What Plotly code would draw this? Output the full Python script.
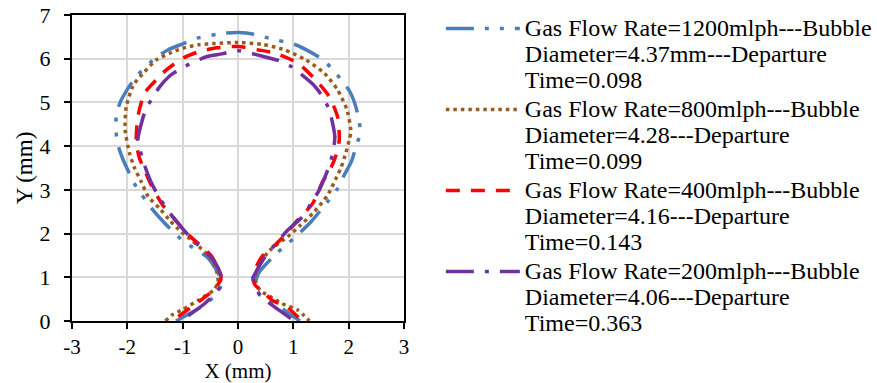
import plotly.graph_objects as go

# Bubble contour coordinates (mm) for each gas flow rate
x_1200 = [-1.12, -0.89, -0.60, -0.40, -0.30, -0.36, -0.55, -0.98, -1.17, -1.37, -1.55, -1.84, -1.96, -2.08,
          -2.17, -2.21, -2.20, -2.13, -2.00, -1.84, -1.48, -1.27, -1.00, -0.74, -0.26, 0.01, 0.29, 0.55,
          1.04, 1.27, 1.51, 1.71, 2.02, 2.12, 2.19, 2.21, 2.16, 2.05, 1.92, 1.79, 1.62, 1.32, 1.11, 0.90,
          0.70, 0.37, 0.31, 0.40, 0.56, 0.79, 1.05, 1.12]
y_1200 = [0.00, 0.16, 0.38, 0.60, 0.85, 1.10, 1.45, 1.82, 2.04, 2.30, 2.56, 3.07, 3.37, 3.70,
          4.03, 4.40, 4.67, 5.00, 5.30, 5.59, 6.03, 6.20, 6.34, 6.47, 6.58, 6.60, 6.56, 6.47,
          6.32, 6.18, 6.00, 5.76, 5.25, 4.94, 4.58, 4.26, 4.10, 3.65, 3.34, 3.01, 2.73, 2.27, 2.01, 1.77,
          1.55, 1.09, 0.78, 0.59, 0.48, 0.29, 0.06, 0.00]

x_800 = [-1.31, -1.19, -1.00, -0.71, -0.44, -0.36, -0.38, -0.45, -0.60, -0.83, -1.03, -1.24, -1.42, -1.62,
         -1.75, -1.87, -1.96, -2.04, -2.02, -1.89, -1.69, -1.48, -1.24, -1.00, -0.71, -0.41, 0.01, 0.43,
         0.85, 1.23, 1.56, 1.80, 1.97, 2.04, 2.01, 1.95, 1.86, 1.80, 1.62, 1.38, 1.11, 0.90, 0.55, 0.38,
         0.30, 0.40, 0.58, 0.79, 1.08, 1.29]
y_800 = [0.00, 0.14, 0.26, 0.48, 0.71, 0.88, 1.10, 1.35, 1.58, 1.84, 2.04, 2.31, 2.58, 2.84,
         3.19, 3.50, 3.84, 4.37, 4.90, 5.40, 5.70, 5.97, 6.12, 6.24, 6.32, 6.35, 6.37, 6.33,
         6.20, 5.97, 5.67, 5.29, 4.83, 4.33, 4.14, 3.85, 3.50, 3.34, 2.88, 2.50, 2.17, 1.93, 1.59, 1.25,
         0.95, 0.70, 0.56, 0.40, 0.25, 0.00]

x_400 = [-1.08, -0.70, -0.44, -0.31, -0.32, -0.40, -0.47, -0.65, -0.86, -1.03, -1.21, -1.36, -1.57, -1.69,
         -1.78, -1.84, -1.81, -1.69, -1.48, -1.30, -1.00, -0.71, -0.38, 0.01, 0.37, 0.67, 1.08, 1.41,
         1.65, 1.80, 1.83, 1.76, 1.65, 1.53, 1.35, 1.08, 0.85, 0.67, 0.43, 0.27, 0.31, 0.46, 0.61, 0.90,
         1.14]
y_400 = [0.10, 0.45, 0.71, 0.95, 1.10, 1.30, 1.47, 1.70, 1.93, 2.16, 2.43, 2.65, 3.11, 3.46,
         3.72, 4.10, 4.67, 5.21, 5.51, 5.74, 6.01, 6.16, 6.25, 6.28, 6.20, 6.13, 5.90, 5.51,
         5.13, 4.67, 4.14, 3.75, 3.42, 3.19, 2.69, 2.31, 1.97, 1.74, 1.47, 1.05, 0.82, 0.67, 0.48, 0.30,
         0.02]

x_200 = [-0.90, -0.60, -0.32, -0.30, -0.36, -0.47, -0.83, -1.19, -1.45, -1.59, -1.69, -1.81, -1.75, -1.67,
         -1.42, -1.23, -1.00, -0.56, -0.29, -0.02, 0.46, 0.73, 0.96, 1.35, 1.52, 1.65, 1.75, 1.72,
         1.65, 1.47, 1.32, 1.17, 0.90, 0.64, 0.49, 0.28, 0.28, 0.40, 0.61, 1.00]
y_200 = [0.12, 0.40, 0.78, 1.00, 1.22, 1.43, 1.87, 2.40, 2.88, 3.23, 3.57, 4.14, 4.50, 4.83,
         5.35, 5.61, 5.80, 6.05, 6.11, 6.19, 6.05, 5.96, 5.82, 5.42, 5.15, 4.83, 4.22, 3.89,
         3.55, 3.00, 2.69, 2.39, 2.08, 1.70, 1.47, 1.01, 0.90, 0.59, 0.37, 0.02]

names = [
    "Gas Flow Rate=1200mlph---Bubble<br>Diameter=4.37mm---Departure<br>Time=0.098",
    "Gas Flow Rate=800mlph---Bubble<br>Diameter=4.28---Departure<br>Time=0.099",
    "Gas Flow Rate=400mlph---Bubble<br>Diameter=4.16---Departure<br>Time=0.143",
    "Gas Flow Rate=200mlph---Bubble<br>Diameter=4.06---Departure<br>Time=0.363",
]
x_ticks = [-3, -2, -1, 0, 1, 2, 3]
y_ticks = [0, 1, 2, 3, 4, 5, 6, 7]

series = [
    (x_1200, y_1200, "#4a7ebb", "28px,11px,4px,11px,4px,11px"),
    (x_800, y_800, "#9c5a1c", "3.5px,4px"),
    (x_400, y_400, "#ff0000", "14px,11px"),
    (x_200, y_200, "#7030a0", "28px,11px,4px,11px"),
]

FONT = "Liberation Serif"
W, H = 877, 383

fig = go.Figure()
for (xs, ys, color, dash), name in zip(series, names):
    label = '<span style="font-size:24px">' + name + "</span>"
    fig.add_trace(go.Scatter(
        x=xs, y=ys, mode="lines", name=label,
        line=dict(color=color, width=3.5, dash=dash, shape="spline", smoothing=0.6),
    ))

axis_common = dict(
    showline=True, linecolor="black", linewidth=2, mirror=True,
    showgrid=True, gridcolor="#d9d9d9", gridwidth=1.5, zeroline=False,
    ticks="outside", ticklen=6, tickwidth=1.5, tickcolor="black",
    automargin=False,
)

fig.update_xaxes(range=[-3, 3], tickvals=x_ticks, ticktext=[str(v) for v in x_ticks],
                 ticklabelstandoff=0, tickfont=dict(family=FONT, size=21, color="black"),
                 title=dict(text="X (mm)", font=dict(family=FONT, size=21, color="black"), standoff=12),
                 **axis_common)
# plot frame spans 15 px .. 321 px from the top of the page
fig.update_yaxes(range=[0, 7], tickvals=y_ticks, ticktext=[str(v) for v in y_ticks],
                 domain=[(H - 321) / H, (H - 15) / H], ticklabelstandoff=9,
                 tickfont=dict(family=FONT, size=22, color="black"),
                 title=dict(text="Y (mm)", font=dict(family=FONT, size=23, color="black"), standoff=1),
                 **axis_common)

fig.update_layout(
    width=W, height=H,
    margin=dict(l=72, r=470, t=0, b=0),
    paper_bgcolor="white", plot_bgcolor="white",
    font=dict(family=FONT, color="black"),
    legend=dict(
        x=1.111, y=1 - 9 / H, xanchor="left", yanchor="top",
        font=dict(family=FONT, size=20, color="black"),
        itemwidth=74, valign="top", bgcolor="rgba(0,0,0,0)",
    ),
    showlegend=True,
)

fig.write_html("out.html")
